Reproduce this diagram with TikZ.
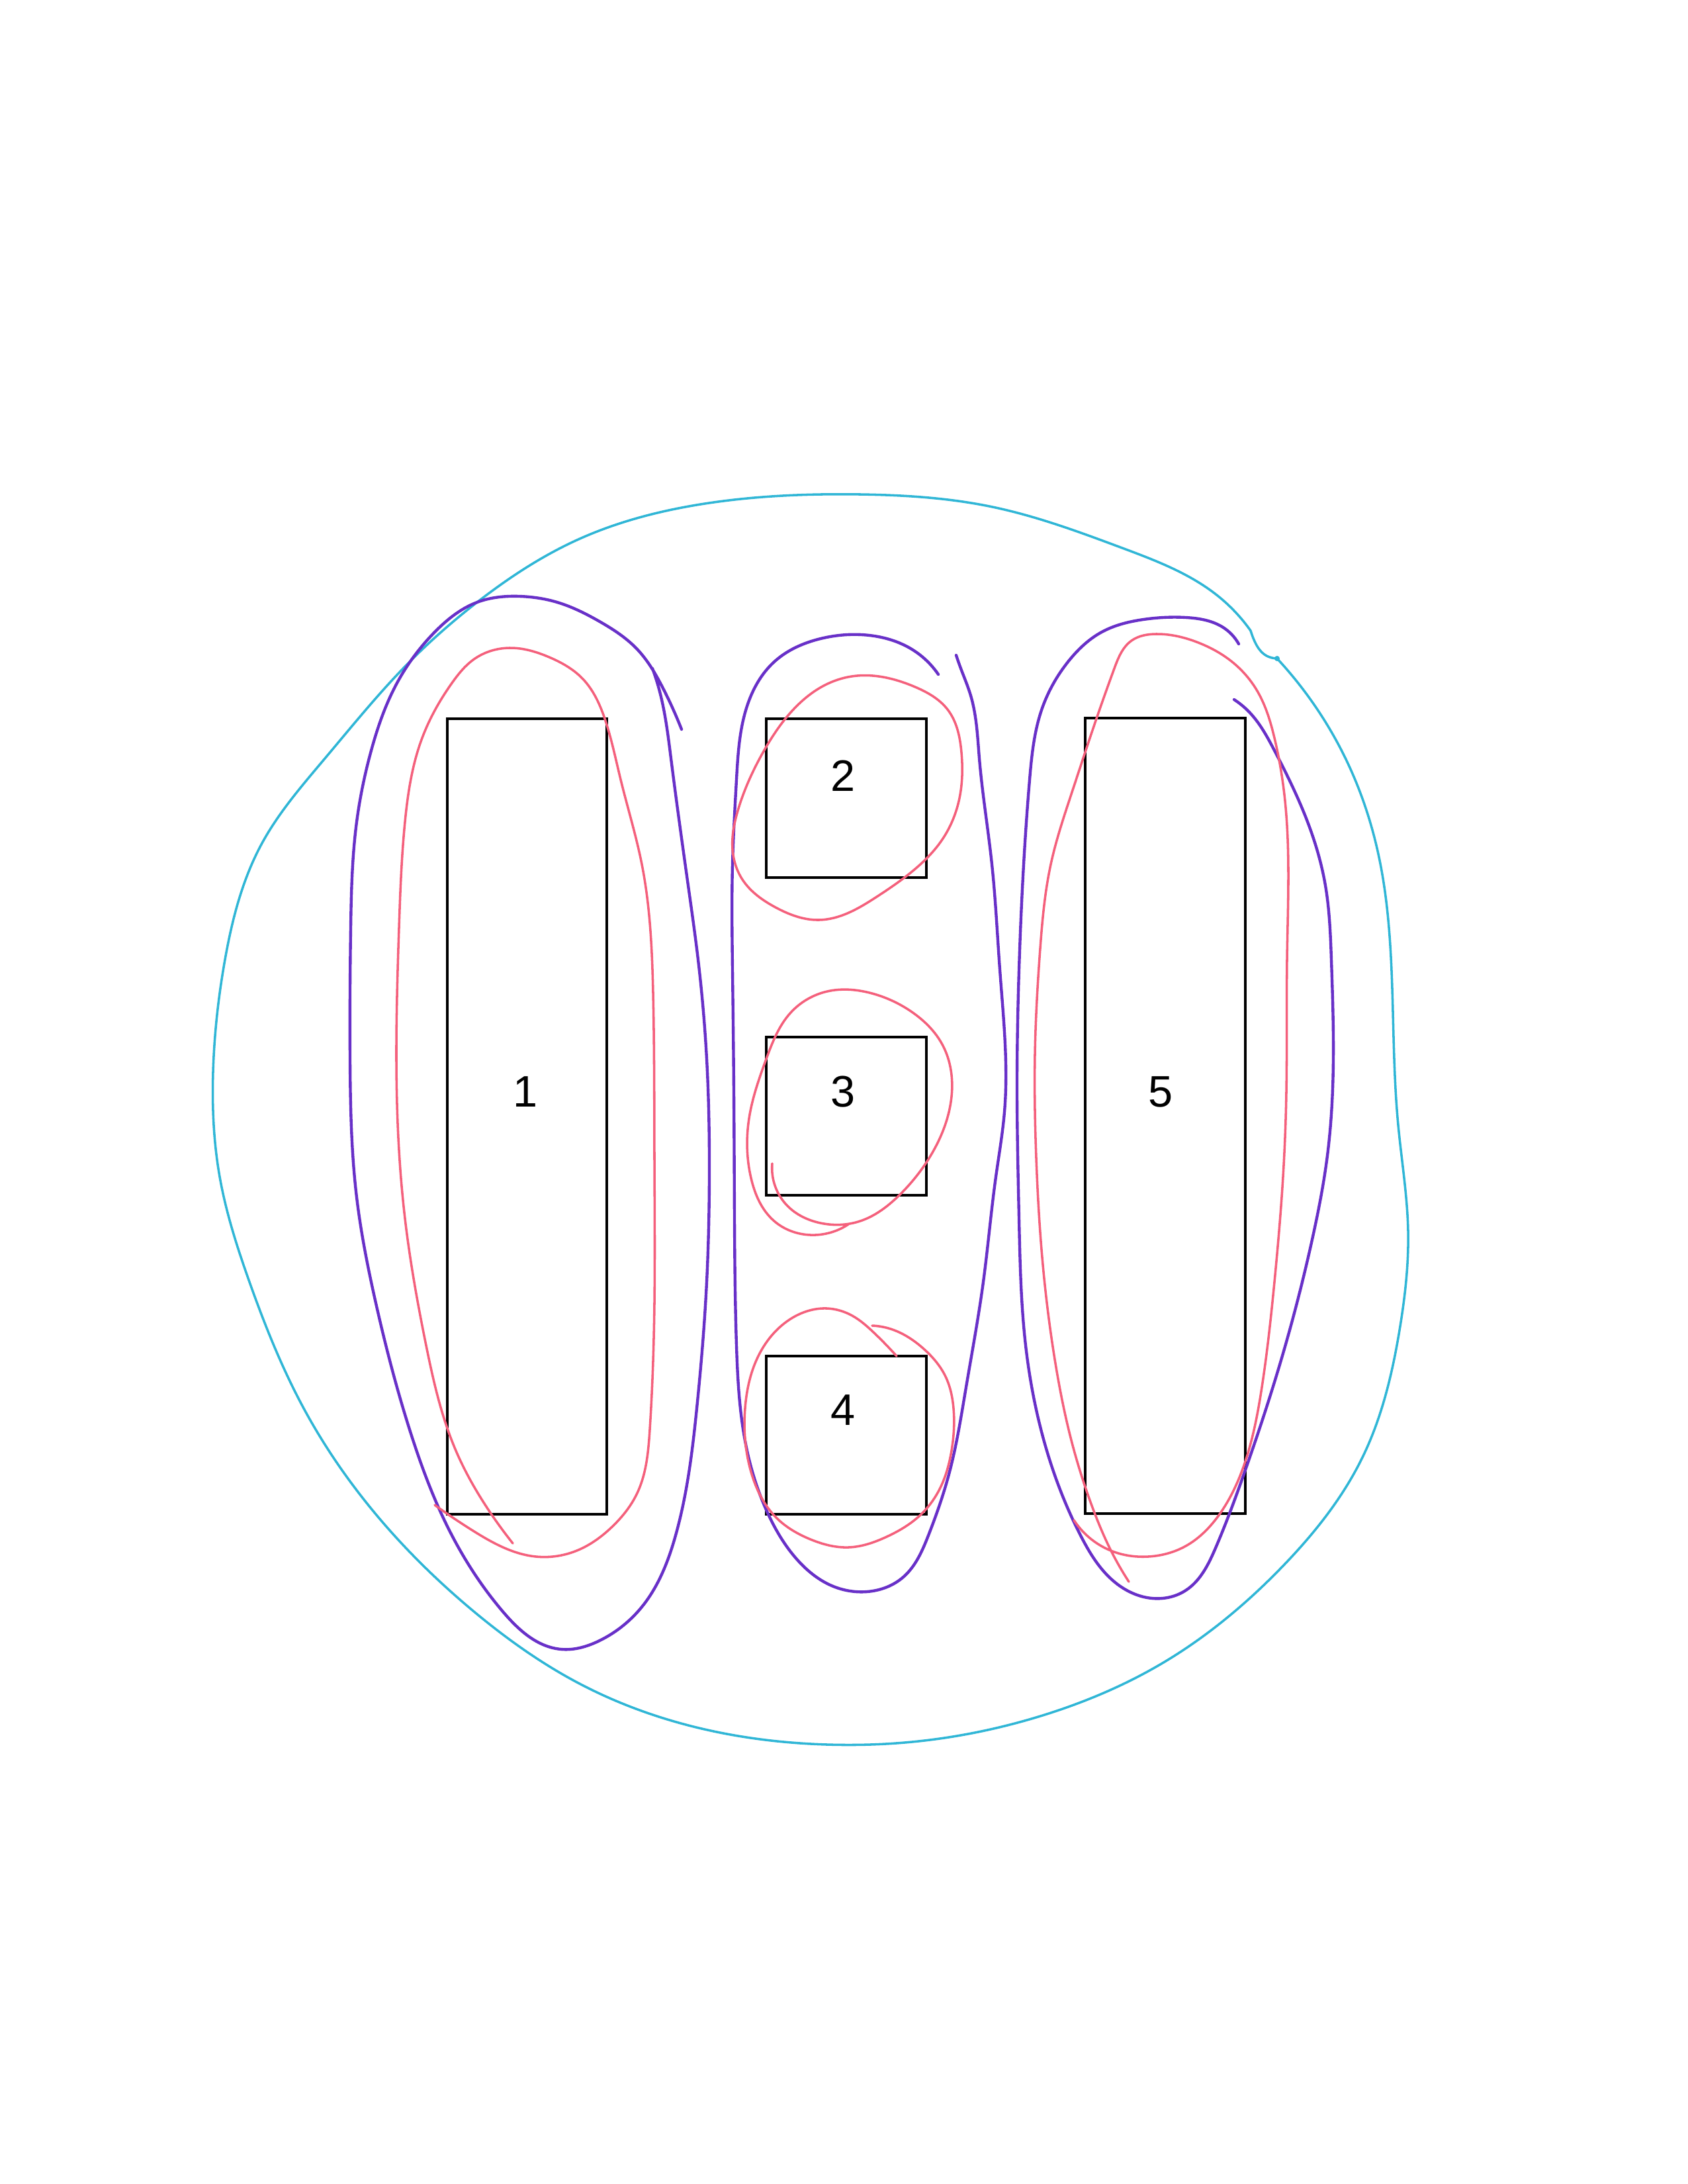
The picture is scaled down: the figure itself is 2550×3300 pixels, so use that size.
\documentclass[tikz,border=0pt]{standalone}
\usepackage{fontspec}
\setmainfont{Liberation Sans}
\usetikzlibrary{hobby}
\begin{document}
\begin{tikzpicture}[x=0.24pt,y=-0.24pt,
  box/.style={draw=black,line width=1pt,inner sep=0pt,rectangle},
  tallbox/.style={box,minimum width=57.9pt,minimum height=288.5pt},
  smallbox/.style={box,minimum width=58.1pt,minimum height=57.5pt},
  lbl/.style={font=\fontsize{16}{19}\selectfont,inner sep=1pt},
  cyanline/.style={draw=cyanc,line width=0.85pt,line cap=round},
  purpline/.style={draw=purpc,line width=1.05pt,line cap=round},
  pinkline/.style={draw=pinkc,line width=0.85pt,line cap=round}]
\definecolor{cyanc}{RGB}{48,182,214}
\definecolor{purpc}{RGB}{104,48,200}
\definecolor{pinkc}{RGB}{244,96,124}
\useasboundingbox (0,0) rectangle (2550,3300);

% boxes
\node[tallbox] (b1) at (796.5,1687) {};
\node[smallbox] (b2) at (1279,1206) {};
\node[smallbox] (b3) at (1279,1686.5) {};
\node[smallbox] (b4) at (1279,2168.5) {};
\node[tallbox] (b5) at (1761,1686) {};

\node[lbl] (l1) at (794,1650) {1};
\node[lbl] (l2) at (1274,1172) {2};
\node[lbl] (l3) at (1274,1650) {3};
\node[lbl] (l4) at (1274,2131) {4};
\node[lbl] (l5) at (1754,1650) {5};

% outer cyan loop (with the small step at top right)
\coordinate (kA) at (1890,953);
\coordinate (kB) at (1930,995);
\draw[cyanline] plot[hobby] coordinates {
 (1930,995) (1971,1044) (2040,1160) (2085,1300) (2105,1529) (2113,1700)
 (2128,1860) (2115,2010) (2060,2200) (1940,2365) (1760,2511) (1569,2594)
 (1378,2632) (1250,2636) (1065,2613) (874,2543) (715,2434) (568,2288)
 (459,2128) (377,1937) (332,1778) (322,1620) (340,1450) (396,1274)
 (491,1146) (619,1000) (721,910) (874,815) (1065,761) (1300,747) (1500,766)
 (1696,828) (1840,900) (1890,953)};
\draw[cyanline] (kA) .. controls (1900,985) and (1912,994) .. (kB);
\fill[cyanc] (kB) circle[radius=4];

% purple loop around box 1
\draw[purpline] plot[hobby] coordinates {
 (1030,1102) (1001,1038) (963,981) (906,939) (842,910) (785,901) (721,910)
 (657,955) (600,1032) (561,1134) (539,1242) (530,1402) (529,1600) (539,1809)
 (568,1969) (619,2160) (683,2320) (759,2434) (848,2492) (906,2479) (970,2428)
 (1021,2320) (1053,2128) (1068,1937) (1072,1778) (1068,1600) (1055,1450)
 (1040,1338) (1014,1146) (997,1045) (986,1010)};

% pink loop around box 1
\draw[pinkline] plot[hobby] coordinates {
 (657,2274) (715,2313) (810,2352) (874,2342) (925,2307) (963,2256) (982,2160)
 (989,1969) (989,1750) (987,1500) (970,1306) (938,1178) (915,1089) (880,1025)
 (830,993) (770,979) (715,997) (683,1032) (638,1115) (612,1242) (603,1402)
 (599,1600) (612,1841) (644,2033) (689,2192) (734,2275) (775,2332)};

% purple loop around boxes 2-4
\draw[purpline] plot[hobby] coordinates {
 (1418,1019) (1378,981) (1314,960) (1240,965) (1170,1000) (1128,1070)
 (1113,1178) (1107,1306) (1107,1465) (1109,1650) (1110,1841) (1113,2033)
 (1129,2192) (1161,2288) (1206,2358) (1257,2396) (1310,2405) (1365,2383)
 (1403,2320) (1435,2224) (1460,2096) (1486,1937) (1505,1778) (1518,1680)
 (1511,1465) (1499,1306) (1480,1146) (1467,1051) (1452,1010) (1445,990)};

% purple loop around box 5
\draw[purpline] plot[hobby] coordinates {
 (1872,973) (1850,949) (1792,933) (1728,936) (1665,955) (1614,1000)
 (1575,1070) (1556,1178) (1547,1306) (1540,1465) (1537,1650) (1540,1841)
 (1550,2033) (1582,2192) (1633,2320) (1684,2390) (1741,2415) (1792,2403)
 (1837,2339) (1881,2224) (1939,2045) (1983,1873) (2006,1746) (2015,1600)
 (2012,1450) (2003,1338) (1971,1229) (1926,1134) (1888,1076) (1865,1057)};

% pink loop around box 5
\draw[pinkline] plot[hobby] coordinates {
 (1623,2297) (1684,2345) (1735,2352) (1792,2336) (1843,2288) (1881,2211)
 (1907,2096) (1926,1937) (1939,1778) (1944,1650) (1945,1450) (1942,1210)
 (1926,1115) (1900,1044) (1862,1000) (1811,971) (1747,958) (1710,968)
 (1684,1010) (1658,1083) (1620,1197) (1588,1306) (1572,1433) (1564,1593)
 (1566,1750) (1575,1900) (1595,2060) (1620,2180) (1650,2275) (1677,2339)
 (1706,2390)};

% pink loop around box 2
\draw[pinkline] plot[closed hobby] coordinates {
 (1287,1022) (1383,1038) (1432,1072) (1453,1137) (1450,1206) (1425,1267)
 (1383,1313) (1325,1355) (1237,1390) (1172,1371) (1122,1329) (1107,1283)
 (1115,1225) (1153,1137) (1199,1072) (1245,1036)};

% pink loop around box 3
\draw[pinkline] plot[hobby] coordinates {
 (1167,1758) (1190,1822) (1240,1848) (1300,1845) (1360,1805) (1410,1740)
 (1438,1657) (1425,1580) (1378,1529) (1314,1500) (1250,1498) (1195,1530)
 (1158,1600) (1132,1690) (1135,1780) (1170,1845) (1225,1866) (1282,1850)};

% pink loop around box 4
\draw[pinkline] plot[hobby] coordinates {
 (1355,2049) (1320,2013) (1288,1988) (1250,1977) (1193,1994) (1148,2045)
 (1126,2128) (1135,2224) (1174,2294) (1225,2326) (1282,2338) (1340,2322)
 (1390,2290) (1420,2250) (1438,2192) (1441,2128) (1429,2080) (1397,2039)
 (1346,2008) (1318,2003)};
\end{tikzpicture}
\end{document}
